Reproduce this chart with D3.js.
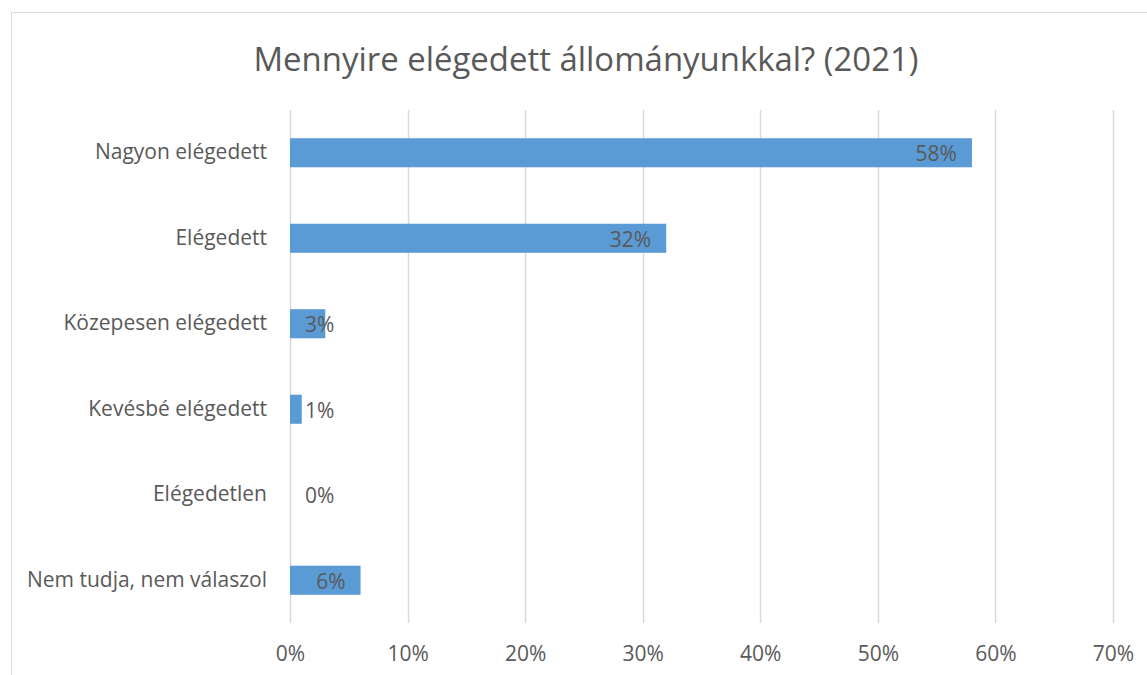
<!DOCTYPE html>
<html>
<head>
<meta charset="utf-8">
<script src="https://cdn.jsdelivr.net/npm/d3@7"></script>
<style>
body { margin: 0; background: #fff; }
text { font-family: "Open Sans", "DejaVu Sans", sans-serif; fill: #595959; }
</style>
</head>
<body>
<div id="chart"></div>
<script>
var WIDTH = 1147
var HEIGHT = 675

var title = "Mennyire elégedett állományunkkal? (2021)"
var categories = ["Nagyon elégedett", "Elégedett", "Közepesen elégedett", "Kevésbé elégedett", "Elégedetlen", "Nem tudja, nem válaszol"]
var values = [0.58, 0.32, 0.03, 0.01, 0.00, 0.06]
var ticks = [0, 0.1, 0.2, 0.3, 0.4, 0.5, 0.6, 0.7]

var fontSize = 21

var svg = d3.select("#chart").append("svg")
    .attr("width", WIDTH)
    .attr("height", HEIGHT)

// chart frame
svg.append("rect")
    .attr("x", 11.5).attr("y", 12.5)
    .attr("width", 1160).attr("height", 700)
    .attr("fill", "none")
    .attr("stroke", "#d9d9d9")

svg.append("text")
    .attr("x", 586).attr("y", 71)
    .attr("text-anchor", "middle")
    .attr("font-size", 32)
    .attr("textLength", 665)
    .attr("lengthAdjust", "spacingAndGlyphs")
    .text(title)

var x = d3.scaleLinear().domain([0, 0.7]).range([290, 1113])
var y = d3.scaleBand().domain(categories).range([110, 623]).paddingInner(0.66).paddingOuter(0.33)

// gridlines
svg.selectAll(".grid")
    .data(ticks)
    .enter()
    .append("line")
    .attr("class", "grid")
    .attr("x1", function(d){ return Math.round(x(d)) + 0.5 })
    .attr("x2", function(d){ return Math.round(x(d)) + 0.5 })
    .attr("y1", 110).attr("y2", 623)
    .attr("stroke", "#d9d9d9")
    .attr("stroke-width", 1.5)

// x axis labels
var xAxis = d3.axisBottom(x).tickValues(ticks).tickFormat(d3.format(".0%")).tickSize(0).tickPadding(0)
var gx = svg.append("g").attr("transform", "translate(0,646)").call(xAxis)
gx.select(".domain").remove()
gx.selectAll("text")
    .attr("font-size", fontSize)
    .style("font-family", "'Open Sans', sans-serif")
    .attr("fill", "#595959")

// y axis labels
var yAxis = d3.axisLeft(y).tickSize(0).tickPadding(23)
var gy = svg.append("g").attr("transform", "translate(290,0)").call(yAxis)
gy.select(".domain").remove()
gy.selectAll("text")
    .attr("font-size", fontSize)
    .style("font-family", "'Open Sans', sans-serif")
    .attr("fill", "#595959")

// bars
svg.selectAll(".bar")
    .data(values)
    .enter()
    .append("rect")
    .attr("class", "bar")
    .attr("x", x(0))
    .attr("y", function(d, i){ return y(categories[i]) })
    .attr("width", function(d){ return x(d) - x(0) })
    .attr("height", y.bandwidth())
    .attr("fill", "#5b9bd5")

// value labels, inside end but never left of the axis
svg.selectAll(".val")
    .data(values)
    .enter()
    .append("text")
    .attr("class", "val")
    .attr("font-size", fontSize)
    .attr("dy", "0.35em")
    .attr("y", function(d, i){ return y(categories[i]) + y.bandwidth() / 2 + 1 })
    .text(function(d){ return Math.round(d * 100) + "%" })
    .attr("x", function(d){
        var w = this.getComputedTextLength()
        return Math.max(x(d) - 15 - w, x(0) + 15)
    })
</script>
</body>
</html>
